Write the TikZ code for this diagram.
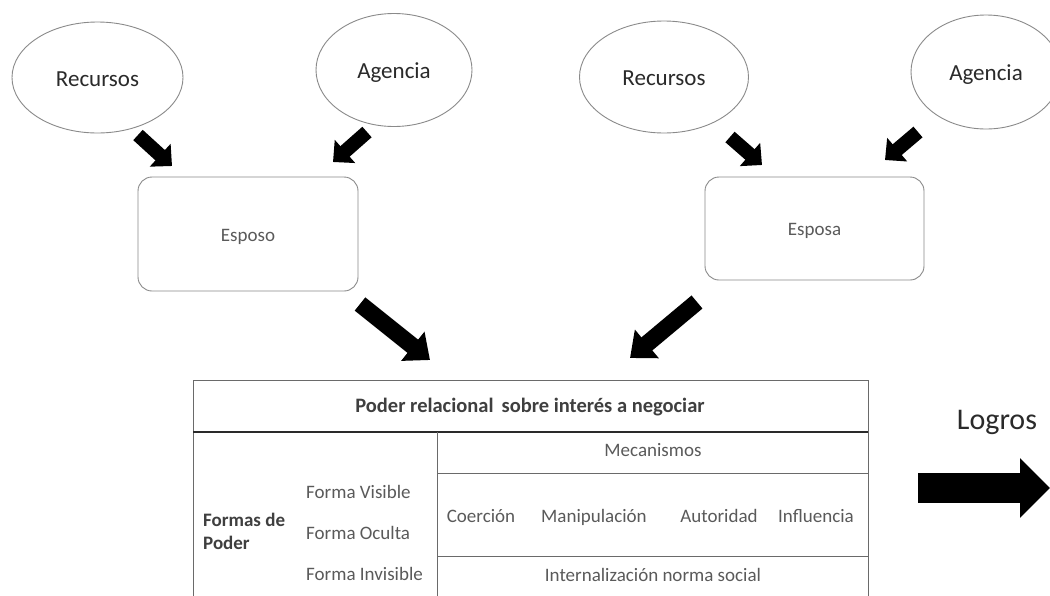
\documentclass[tikz,border=0pt]{standalone}
\usepackage{fontspec}
\setmainfont{Carlito}
\usetikzlibrary{shapes.geometric,arrows.meta}
\definecolor{lineg}{HTML}{8A8A8A}
\definecolor{tabg}{HTML}{6A6A6A}
\definecolor{txtg}{HTML}{5A5A5A}
\definecolor{txtd}{HTML}{2A2A2A}
\begin{document}
\begin{tikzpicture}[x=1pt,y=-1pt,
  ell/.style={draw=lineg, line width=0.9pt, ellipse, inner sep=0pt, text=txtd, font=\fontsize{23}{26}\selectfont, text height=22.5pt, text depth=5pt},
  box/.style={draw=lineg, line width=0.9pt, rectangle, rounded corners=14pt, inner sep=0pt, text=txtg, font=\fontsize{19}{22}\selectfont, text height=19pt, text depth=4.2pt},
  smallarrow/.style={line width=14pt, draw=black, -{Triangle[length=16pt,width=30pt]}},
  bigarrow/.style={line width=17pt, draw=black, -{Triangle[length=22pt,width=36pt]}},
  logrosarrow/.style={line width=30pt, draw=black, -{Triangle[length=30pt,width=58pt]}},
  tabline/.style={draw=tabg, line width=0.9pt},
  tabtxt/.style={text=txtg, inner sep=0pt, font=\fontsize{19}{23}\selectfont, text height=17.7pt, text depth=4.2pt},
  tabbold/.style={text=txtd!90, inner sep=0pt, font=\fontsize{19}{23}\selectfont\bfseries}
]
\useasboundingbox (0,0) rectangle (1050,595);
\clip (0,0) rectangle (1050,595);
\fill[white] (0,0) rectangle (1050,595);

% ellipses
\node[ell, minimum width=171pt, minimum height=111pt] (rec1) at (97.5,77.5) {Recursos};
\node[ell, minimum width=156pt, minimum height=113pt] (age1) at (394,70) {Agencia};
\node[ell, minimum width=169pt, minimum height=112pt] (rec2) at (664,77) {Recursos};
\node[ell, minimum width=150pt, minimum height=114pt] (age2) at (986,72) {Agencia};

% boxes
\node[box, minimum width=220pt, minimum height=114pt] (esposo) at (248,234) {Esposo};
\node[box, minimum width=219pt, minimum height=103pt] (esposa) at (814.5,228.5) {Esposa};

% arrow end points
\coordinate (a1s) at (138,135); \coordinate (a1e) at (172,166);
\coordinate (a2s) at (367,132); \coordinate (a2e) at (333,162);
\coordinate (a3s) at (730,137); \coordinate (a3e) at (762,165);
\coordinate (a4s) at (918,132); \coordinate (a4e) at (885,160);
\coordinate (b1s) at (360,304); \coordinate (b1e) at (430,360);
\coordinate (b2s) at (697,302); \coordinate (b2e) at (630,358);
\coordinate (l1) at (918,488); \coordinate (l2) at (1050,488);

\draw[smallarrow] (a1s) -- (a1e);
\draw[smallarrow] (a2s) -- (a2e);
\draw[smallarrow] (a3s) -- (a3e);
\draw[smallarrow] (a4s) -- (a4e);
\draw[bigarrow] (b1s) -- (b1e);
\draw[bigarrow] (b2s) -- (b2e);
\draw[logrosarrow] (l1) -- (l2);
\node[text=txtd, inner sep=0pt, font=\fontsize{30}{34}\selectfont, text height=21.6pt, text depth=6.6pt] (logros) at (997,422) {Logros};

% table
\draw[tabline] (193,380) -- (868,380);
\draw[tabline] (193,380) -- (193,600);
\draw[tabline] (868,380) -- (868,600);
\draw[draw=txtd, line width=2.2pt] (193,432) -- (868,432);
\draw[tabline] (437,432) -- (437,600);
\draw[tabline] (437,473) -- (868,473);
\draw[tabline] (437,556) -- (868,556);

\node[tabbold, font=\fontsize{20.5}{24}\selectfont\bfseries, text height=18.8pt, text depth=4.5pt] (title) at (530,405) {Poder relacional\, sobre interés a negociar};
\node[tabbold, anchor=west, align=left] (formas) at (203,531) {Formas de\\Poder};
\node[tabtxt, anchor=west] (fv) at (306,492) {Forma Visible};
\node[tabtxt, anchor=west] (fo) at (306,533) {Forma Oculta};
\node[tabtxt, anchor=west] (fi) at (306,574) {Forma Invisible};
\node[tabtxt] (mec) at (653,450) {Mecanismos};
\node[tabtxt] (coe) at (481,516) {Coerción};
\node[tabtxt] (man) at (594,516) {Manipulación};
\node[tabtxt] (aut) at (719,516) {Autoridad};
\node[tabtxt] (inf) at (816,516) {Influencia};
\node[tabtxt] (intn) at (653,575) {Internalización norma social};
\end{tikzpicture}
\end{document}
